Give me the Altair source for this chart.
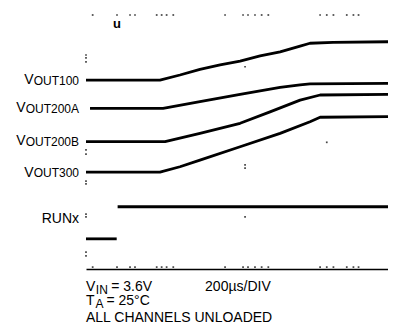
import altair as alt
import pandas as pd

FONT = "Liberation Sans"

# ---- traces: time in µs (200 µs/DIV), level in vertical divisions (8 DIV)
t_vout100 = [0, 477, 606, 735, 865, 994, 1123, 1252, 1381, 1445, 1594, 2000]
v_vout100 = [5.95, 5.95, 6.11, 6.29, 6.43, 6.55, 6.71, 6.84, 7.02, 7.11, 7.14, 7.16]

t_vout200a = [26, 497, 735, 994, 1252, 1381, 1445, 2000]
v_vout200a = [5.06, 5.06, 5.27, 5.50, 5.72, 5.80, 5.83, 5.85]

t_vout200b = [0, 510, 735, 994, 1187, 1381, 1510, 2000]
v_vout200b = [4.01, 4.01, 4.27, 4.59, 4.95, 5.32, 5.48, 5.50]

t_vout300 = [0, 477, 606, 735, 994, 1252, 1445, 1510, 2000]
v_vout300 = [3.05, 3.05, 3.22, 3.43, 3.85, 4.27, 4.64, 4.78, 4.80]

t_run_low = [0, 198]
v_run_low = [0.95, 0.95]
t_run_high = [204, 2000]
v_run_high = [1.96, 1.96]

# ---- channel labels
label_main = ["V", "V", "V", "V", "RUNx"]
label_sub = ["OUT100", "OUT200A", "OUT200B", "OUT300", ""]
label_level = [5.97, 5.09, 4.06, 3.07, 1.62]

# ---- graticule dots (time µs, level DIV)
dot_t = [43, 200, 284, 316, 456, 488, 520, 563, 897, 1013, 1045, 1090, 1133, 1176, 1510, 1553, 1596, 1682, 1725, 1758,
         43, 200, 284, 316, 456, 488, 520, 563, 897, 1013, 1045, 1090, 1133, 1176, 1510, 1553, 1596, 1682, 1725, 1758,
         0, 0, 0, 0, 0, 0, 0, 0, 0, 0, 0,
         1026, 1026, 1026, 1026, 1553]
dot_v = [8.0] * 20 + [0.06] * 20 + \
        [6.74, 6.65, 6.52, 3.75, 3.62, 2.77, 2.68, 1.73, 1.64, 0.53, 0.41] + \
        [6.37, 3.28, 3.18, 1.64, 3.99]

# ---- footnotes
note_scale = "200µs/DIV"
note_scale_t = 768
note_line3 = "ALL CHANNELS UNLOADED"
note_levels = [-0.68, -1.14, -1.67]

# Arial/Liberation Sans advance widths (per 1000 em)
W = {'V': 667, 'O': 778, 'U': 722, 'T': 611, '1': 556, '0': 556, '2': 556, '3': 556, '5': 556,
     '6': 556, 'A': 667, 'B': 667, 'I': 278, 'N': 722, ' ': 278, '=': 584, '.': 278, 'R': 722,
     'x': 500, '°': 400, 'C': 722}


def tw(s, size):
    return sum(W.get(c, 556) for c in s) * size / 1000.0


xs = alt.Scale(domain=[0, 1948], nice=False, zero=False)
ys = alt.Scale(domain=[0, 8], nice=False, zero=False)
xaxis = alt.Axis(domain=True, domainColor="black", domainWidth=1.6, ticks=False,
                 labels=False, grid=False, title=None)

rows = []
for name, ts, vs in [("VOUT100", t_vout100, v_vout100), ("VOUT200A", t_vout200a, v_vout200a),
                     ("VOUT200B", t_vout200b, v_vout200b), ("VOUT300", t_vout300, v_vout300),
                     ("RUN_low", t_run_low, v_run_low), ("RUN_high", t_run_high, v_run_high)]:
    for t, v in zip(ts, vs):
        rows.append({"t": t, "v": v, "seg": name})
df = pd.DataFrame(rows)


def X():
    return alt.X("t:Q", scale=xs, axis=xaxis)


def Y():
    return alt.Y("v:Q", scale=ys, axis=None)


traces = alt.Chart(df).mark_line(color="black", strokeWidth=2.8, strokeJoin="round", clip=True).encode(
    x=X(), y=Y(), detail="seg:N")

dots = alt.Chart(pd.DataFrame({"t": dot_t, "v": dot_v})).mark_square(
    color="#333333", size=3, opacity=0.9).encode(x=X(), y=Y())

trig = alt.Chart(pd.DataFrame({"t": [200], "v": [7.59], "s": ["u"]})).mark_text(
    font=FONT, fontSize=13, fontWeight="bold", align="center", baseline="alphabetic", color="black"
).encode(x=X(), y=Y(), text="s:N")


def txt(t, v, s, size, align="left", dx=0, dy=0):
    return alt.Chart(pd.DataFrame({"t": [t], "v": [v], "s": [s]})).mark_text(
        font=FONT, fontSize=size, align=align, baseline="alphabetic", dx=dx, dy=dy, color="black"
    ).encode(x=X(), y=Y(), text="s:N")


layers = [traces, dots, trig]

# channel labels (right-aligned left of plot)
for m, s, lv in zip(label_main, label_sub, label_level):
    if s:
        layers.append(txt(0, lv, s, 12, align="right", dx=-7, dy=5.5))
        layers.append(txt(0, lv, m, 14, align="right", dx=-7 - tw(s, 12), dy=5))
    else:
        layers.append(txt(0, lv, m, 14, align="right", dx=-7, dy=5))

# footnotes
sp = tw(" ", 14)
layers.append(txt(0, note_levels[0], "V", 14))
layers.append(txt(0, note_levels[0], "IN", 12, dx=tw("V", 14) + 0.5, dy=3))
layers.append(txt(0, note_levels[0], "= 3.6V", 14, dx=tw("V", 14) + tw("IN", 12) + sp))
layers.append(txt(note_scale_t, note_levels[0], note_scale, 14))
layers.append(txt(0, note_levels[1], "T", 14))
layers.append(txt(0, note_levels[1], "A", 12, dx=tw("T", 14) + 1, dy=2.5))
layers.append(txt(0, note_levels[1], "= 25°C", 14, dx=tw("T", 14) + tw("A", 12) + sp))
layers.append(txt(0, note_levels[2], note_line3, 14))

chart = alt.layer(*layers).properties(
    width=302, height=254,
    padding={"left": 78, "top": 7, "right": 0, "bottom": 56},
    autosize=alt.AutoSizeParams(type="none"),
).configure_view(strokeWidth=0)

chart.save("out.html", embed_options={"renderer": "svg", "actions": False})
